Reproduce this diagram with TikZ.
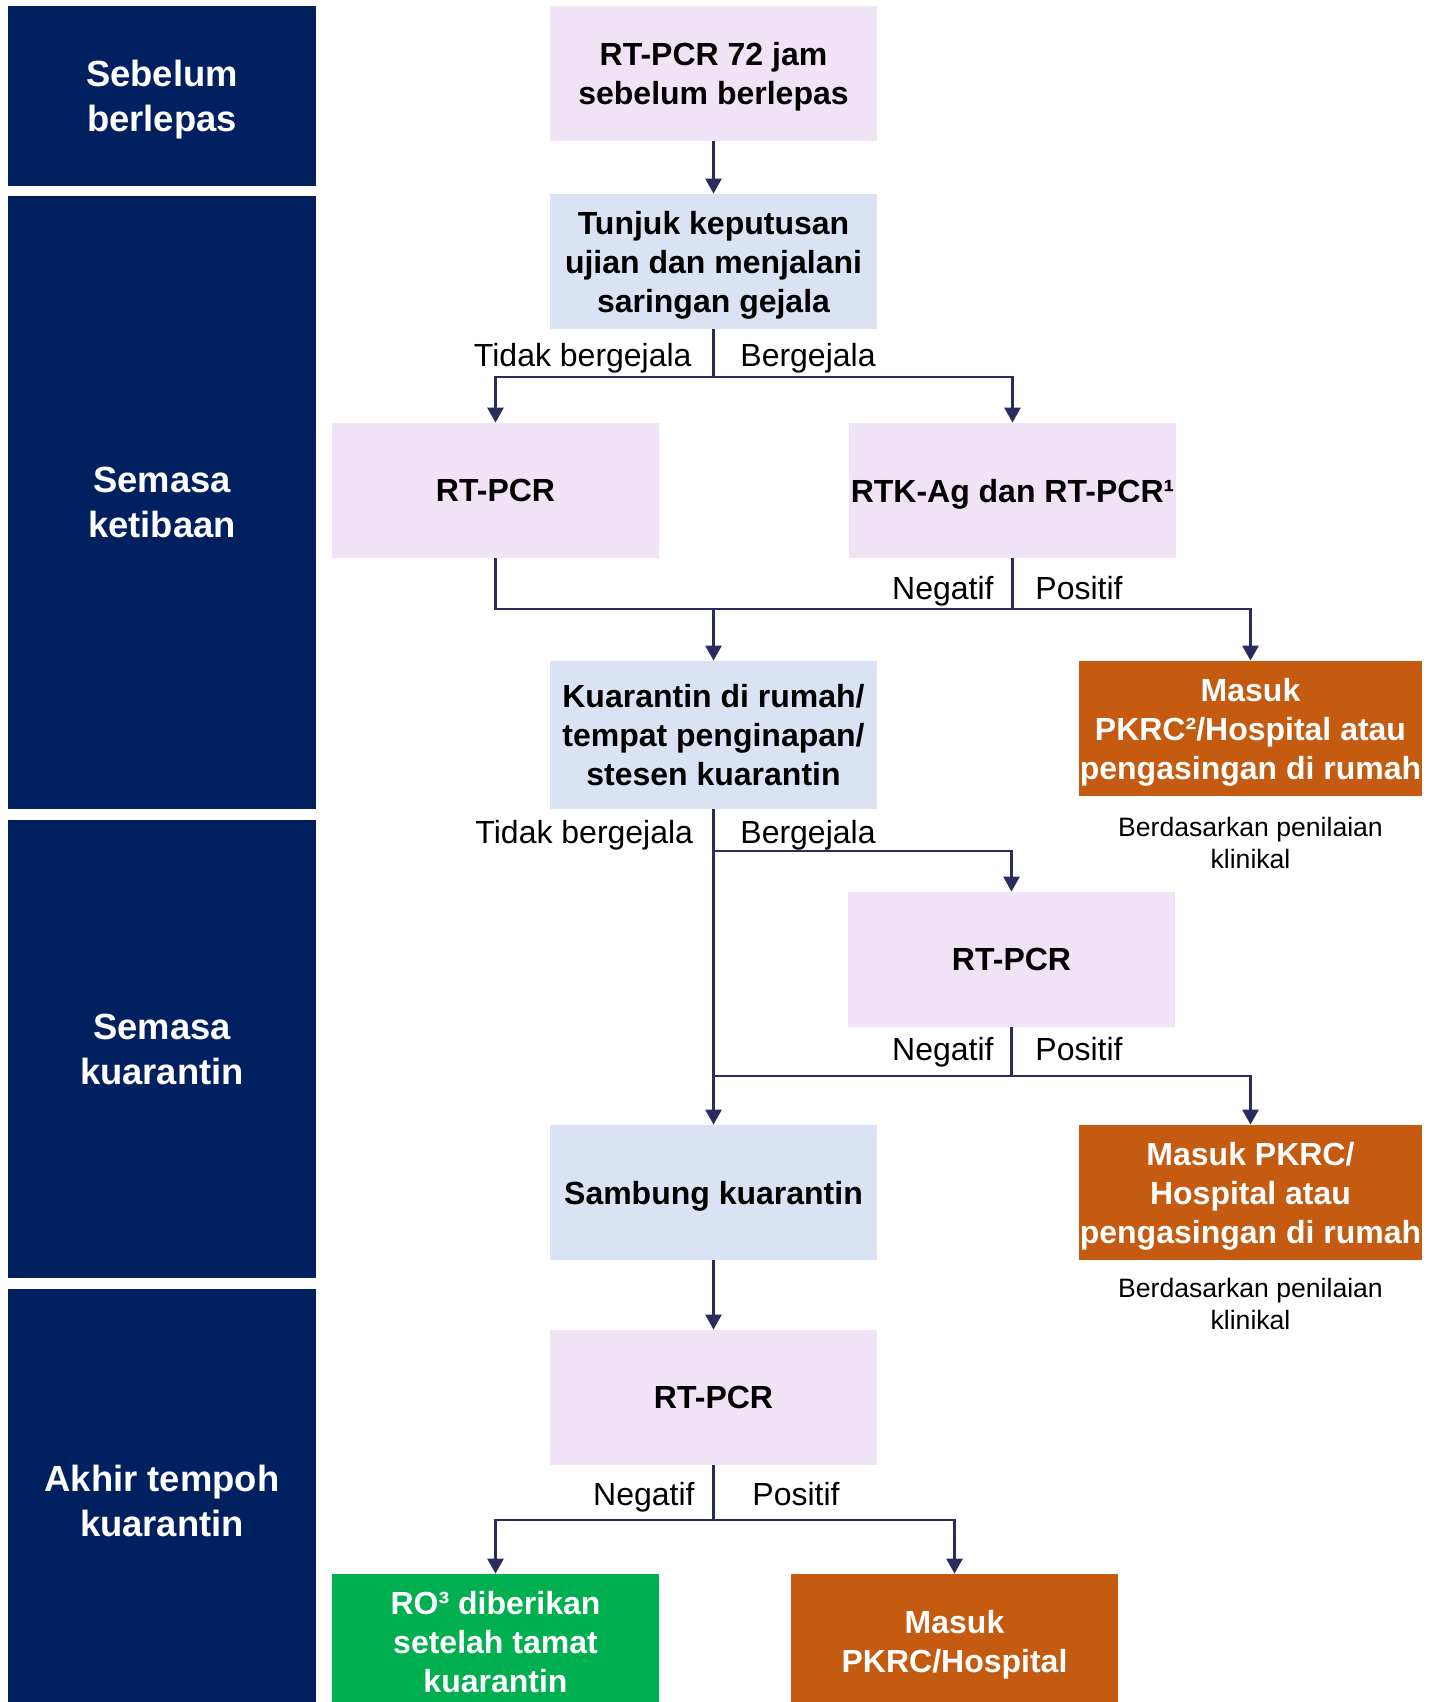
\documentclass[tikz,border=0pt]{standalone}
\usepackage{fontspec}
\setmainfont{Liberation Sans}
\usetikzlibrary{arrows.meta}
\definecolor{navy}{RGB}{0,32,96}
\definecolor{pinkbox}{RGB}{239,227,245}
\definecolor{bluebox}{RGB}{218,227,243}
\definecolor{orangebox}{RGB}{197,90,17}
\definecolor{greenbox}{RGB}{0,176,80}
\definecolor{linec}{RGB}{43,43,96}
\begin{document}
\begin{tikzpicture}[x=0.5pt,y=-0.5pt,
  phase/.style={fill=navy, text=white, inner sep=0pt, minimum width=154pt, align=center,
    text depth=0pt, font=\bfseries\fontsize{18.2}{22.3}\selectfont},
  box/.style={inner sep=0pt, align=center, font=\bfseries\fontsize{16}{19.5}\selectfont,
    text depth=0pt, minimum width=163.5pt, minimum height=67.5pt},
  pbox/.style={box, fill=pinkbox},
  bbox/.style={box, fill=bluebox},
  obox/.style={box, fill=orangebox, text=white},
  gbox/.style={box, fill=greenbox, text=white},
  lbl/.style={inner sep=0pt, font=\fontsize{16}{19.5}\selectfont},
  note/.style={inner sep=0pt, align=center, font=\fontsize{13.3}{16.3}\selectfont},
  ln/.style={draw=linec, line width=1.3pt},
  arr/.style={ln, -{Triangle[length=7.5pt,width=8pt]}}
]
\useasboundingbox (0,0) rectangle (1433,1702);
\fill[white] (0,0) rectangle (1433,1702);

% phase column
\node[phase, minimum height=90pt] (L1) at (162,96) {Sebelum\\berlepas};
\node[phase, minimum height=306.5pt] (L2) at (162,502.5) {Semasa\\ketibaan};
\node[phase, minimum height=229pt] (L3) at (162,1049) {Semasa\\kuarantin};
\node[phase, minimum height=211.5pt] (L4) at (162,1500.5) {Akhir tempoh\\kuarantin};

% boxes
\node[pbox] (B1) at (713.5,73.5) {RT-PCR 72 jam\\sebelum berlepas};
\node[bbox] (B2) at (713.5,261.5) {Tunjuk keputusan\\ujian dan menjalani\\saringan gejala};
\node[pbox] (B3) at (495.5,490.5) {RT-PCR};
\node[pbox] (B4) at (1012.5,490.5) {RTK-Ag dan RT-PCR¹};
\node[bbox, minimum height=74pt] (B5) at (713.5,735) {Kuarantin di rumah/\\tempat penginapan/\\stesen kuarantin};
\node[obox, minimum width=171.5pt] (O1) at (1250.5,728.5) {Masuk\\PKRC²/Hospital atau\\pengasingan di rumah};
\node[pbox] (B6) at (1011.5,959.5) {RT-PCR};
\node[bbox] (B7) at (713.5,1192.5) {Sambung kuarantin};
\node[obox, minimum width=171.5pt] (O2) at (1250.5,1192.5) {Masuk PKRC/\\Hospital atau\\pengasingan di rumah};
\node[pbox] (B8) at (713.5,1397.5) {RT-PCR};
\node[gbox] (G) at (495.5,1641.5) {RO³ diberikan\\setelah tamat\\kuarantin};
\node[obox] (O3) at (954.5,1641.5) {Masuk\\PKRC/Hospital};

% notes
\node[note] (D1) at (1250.5,843) {Berdasarkan penilaian\\klinikal};
\node[note] (D2) at (1250.5,1304) {Berdasarkan penilaian\\klinikal};

% connectors
\coordinate (j1) at (713.5,377);
\coordinate (j2) at (713.5,609);
\coordinate (j3) at (713.5,851);
\coordinate (j4) at (713.5,1076);
\coordinate (j5) at (713.5,1520);

\draw[arr] (B1.south) -- (B2.north);
\draw[ln] (B2.south) -- (j1);
\draw[arr] (j1) -| (B3.north);
\draw[arr] (j1) -| (B4.north);
\draw[arr] (B3.south) |- (j2) -| (O1.north);
\draw[ln] (B4.south) -- (B4.south |- j2);
\draw[arr] (j2) -- (B5.north);
\draw[arr] (B5.south) -- (B7.north);
\draw[arr] (j3) -| (B6.north);
\draw[ln] (B6.south) -- (B6.south |- j4);
\draw[arr] (j4) -| (O2.north);
\draw[arr] (B7.south) -- (B8.north);
\draw[ln] (B8.south) -- (j5);
\draw[arr] (j5) -| (G.north);
\draw[arr] (j5) -| (O3.north);

% edge labels
\node[lbl, anchor=base east] (t1) at (692,366) {Tidak bergejala};
\node[lbl, anchor=base west] (t2) at (740,366) {Bergejala};
\node[lbl, anchor=base east] (n1) at (994,599) {Negatif};
\node[lbl, anchor=base west] (p1) at (1035,599) {Positif};
\node[lbl, anchor=base east] (t3) at (693.5,843) {Tidak bergejala};
\node[lbl, anchor=base west] (t4) at (740,843) {Bergejala};
\node[lbl, anchor=base east] (n2) at (994,1060) {Negatif};
\node[lbl, anchor=base west] (p2) at (1035,1060) {Positif};
\node[lbl, anchor=base east] (n3) at (695,1505) {Negatif};
\node[lbl, anchor=base west] (p3) at (752,1505) {Positif};
\end{tikzpicture}
\end{document}
